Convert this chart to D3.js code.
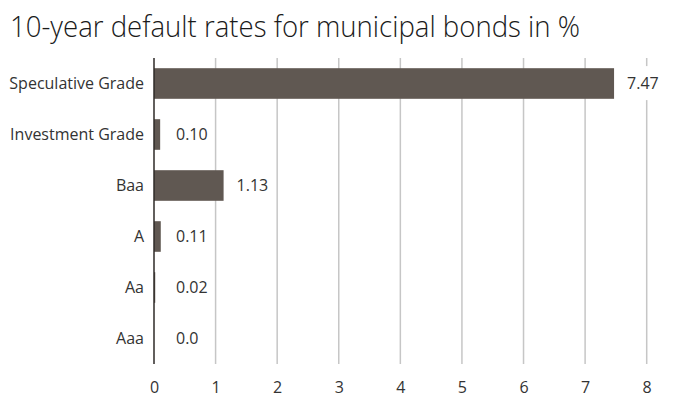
<!DOCTYPE html>
<html><head><meta charset="utf-8">
<script src="https://cdn.jsdelivr.net/npm/d3@7"></script>
<style>body{margin:0;background:#fff;} svg{display:block;}</style>
</head><body>
<svg id="c" width="676" height="398"></svg>
<script>
const categories = ["Speculative Grade","Investment Grade","Baa","A","Aa","Aaa"];
const values = [7.47, 0.10, 1.13, 0.11, 0.02, 0.0];
const valueLabels = ["7.47","0.10","1.13","0.11","0.02","0.0"];
const ticks = [0,1,2,3,4,5,6,7,8];
const title = "10-year default rates for municipal bonds in %";

const svg = d3.select("#c");
const font = "'Open Sans', 'Noto Sans', sans-serif";
const x = d3.scaleLinear().domain([0,8]).range([154,646.7]);
const y = d3.scaleBand().domain(categories).range([58,364]).paddingInner(0.4).paddingOuter(0.2);

svg.append("text").attr("x",10).attr("y",37).attr("font-family",font)
  .attr("font-size",29).attr("fill","#1a1a1a").attr("font-weight",300)
  .attr("textLength",570).attr("lengthAdjust","spacingAndGlyphs").text(title);

// grid
svg.append("g").selectAll("line").data(ticks.filter(t=>t>0)).join("line")
  .attr("x1",d=>x(d)).attr("x2",d=>x(d)).attr("y1",58).attr("y2",364)
  .attr("stroke","#c6c6c6").attr("stroke-width",1.5);

// x axis labels
const xa = svg.append("g").attr("transform","translate(0,364)")
  .call(d3.axisBottom(x).tickValues(ticks).tickSize(0).tickPadding(18).tickFormat(d3.format("d")));
xa.select(".domain").remove();
xa.selectAll("text").attr("font-family",font).attr("font-size",16).attr("fill","#333");

// y labels
const ya = svg.append("g").attr("transform","translate(144,0)")
  .call(d3.axisLeft(y).tickSize(0).tickPadding(0));
ya.select(".domain").remove();
ya.selectAll("text").attr("font-family",font).attr("font-size",16).attr("fill","#333");

const data = categories.map((c,i)=>({c, v:values[i], l:valueLabels[i]}));

// value labels with white background
const lg = svg.append("g");
data.forEach(d=>{
  const lx = Math.max(x(d.v)+13, x(0)+22);
  const cy = y(d.c)+y.bandwidth()/2;
  const t = lg.append("text").attr("x",lx).attr("y",cy).attr("dy","0.35em")
    .attr("font-family",font).attr("font-size",16).attr("fill","#333").text(d.l);
  const bb = t.node().getBBox();
  lg.insert("rect","text").attr("x",bb.x-4).attr("y",bb.y-6).attr("width",bb.width+8).attr("height",bb.height+12).attr("fill","#fff");
});

// bars
svg.append("g").selectAll("rect").data(data).join("rect")
  .attr("x",x(0)).attr("y",d=>y(d.c)).attr("width",d=>x(d.v)-x(0)).attr("height",y.bandwidth())
  .attr("fill","#605852");

// zero axis line
svg.append("line").attr("x1",x(0)).attr("x2",x(0)).attr("y1",58).attr("y2",364)
  .attr("stroke","#2e2a27").attr("stroke-width",1.5);
</script>
</body></html>
